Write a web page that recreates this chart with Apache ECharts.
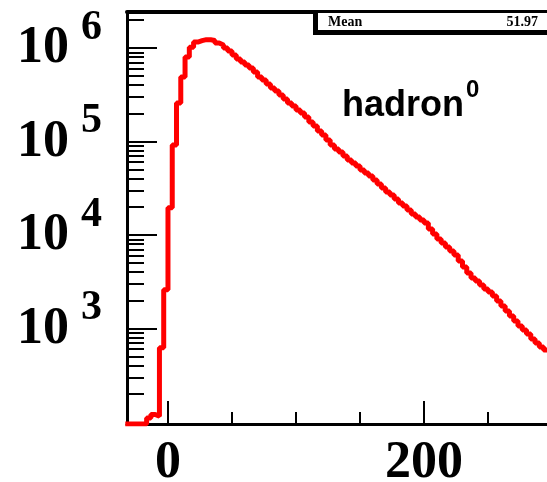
<!DOCTYPE html>
<html><head><meta charset="utf-8">
<script src="https://cdn.jsdelivr.net/npm/echarts@6/dist/echarts.min.js"></script>
<style>html,body{margin:0;padding:0;background:#fff;}#c{width:547px;height:482px;}</style>
</head><body><div id="c"></div>
<script>
// Histogram binning
const binStart = -100 / 3;
const binWidth = 10 / 3;
// Bin contents, bin i covers [binStart + i*binWidth, binStart + (i+1)*binWidth]
const counts = [
  0, 0, 0, 0, 0, 110, 120, 115, 620, 2600,
  19500, 92000, 258000, 490000, 800000, 1020000, 1160000, 1200000, 1230000, 1225000,
  1205000, 1130000, 1077000, 1000000, 929000, 841000, 762000, 709000, 658000, 611000,
  554000, 490000, 455000, 412000, 373000, 347000, 314000, 285000, 258000, 240000,
  217000, 202000, 183000, 161700, 146500, 129500, 117400, 103700, 91800, 83100,
  77200, 70000, 63400, 58900, 54700, 49600, 46000, 42800, 38800, 35100,
  31800, 28800, 26800, 24300, 22000, 20400, 18500, 16800, 15580, 14470,
  13440, 11600, 10250, 9060, 8210, 7440, 6740, 6110, 5270, 4550,
  3920, 3470, 3220, 2920, 2650, 2460, 2230, 1970, 1740, 1540,
  1360, 1200, 1060, 964, 873, 772, 700, 634, 589
];
// Axis ranges and ticks
const xRange = [-32, 296];
const yRange = [95, 2430000];
const xLabelTicks = [0, 200];
const xMinorTicks = [50, 100, 150, 250];
const yLabelTicks = [1e3, 1e4, 1e5, 1e6];
const yDecades = [1e2, 1e3, 1e4, 1e5, 1e6];
const yMultipliers = [2, 3, 4, 5, 6, 7, 8, 9];
const statLabel = 'Mean';
const statValue = '51.97';

const yMinor = [];
yDecades.forEach(d => yMultipliers.forEach(m => { const v = d * m; if (v > yRange[0] && v < yRange[1]) yMinor.push(v); }));

const pts = [];
counts.forEach((c, i) => pts.push([binStart + i * binWidth, c > 0 ? c : yRange[0]]));
pts.push([binStart + counts.length * binWidth, counts[counts.length - 1] || yRange[0]]);

const chart = echarts.init(document.getElementById('c'), null, {renderer: 'canvas'});
const serif = 'Liberation Serif';
chart.setOption({
  animation: false,
  backgroundColor: '#fff',
  grid: {left: 127, top: 12, right: 0, bottom: 58, containLabel: false, outerBoundsMode: 'none'},
  title: {
    text: '{a|hadron}{s|0}', left: 337, top: 73,
    textStyle: {rich: {
      a: {fontFamily: 'Liberation Sans', fontWeight: 'bold', fontSize: 36, color: '#000', verticalAlign: 'bottom'},
      s: {fontFamily: 'Liberation Sans', fontWeight: 'bold', fontSize: 24, color: '#000', verticalAlign: 'bottom', padding: [0, 0, 22, 2]}
    }}
  },
  xAxis: [
    {type: 'value', position: 'bottom', min: xRange[0], max: xRange[1],
     axisLine: {show: true, onZero: false, lineStyle: {color: '#000', width: 3}},
     axisTick: {show: true, inside: true, length: 23, lineStyle: {color: '#000', width: 2}, customValues: xLabelTicks},
     axisLabel: {show: true, customValues: xLabelTicks, margin: 14, fontFamily: serif, fontWeight: 'bold', fontSize: 52, color: '#000'},
     splitLine: {show: false}},
    {type: 'value', position: 'bottom', min: xRange[0], max: xRange[1],
     axisLine: {show: false, onZero: false},
     axisTick: {show: true, inside: true, length: 12, lineStyle: {color: '#000', width: 2}, customValues: xMinorTicks},
     axisLabel: {show: false}, splitLine: {show: false}},
    {type: 'value', position: 'top', min: xRange[0], max: xRange[1],
     axisLine: {show: true, onZero: false, lineStyle: {color: '#000', width: 4}},
     axisTick: {show: false}, axisLabel: {show: false}, splitLine: {show: false}}
  ],
  yAxis: [
    {type: 'log', logBase: 10, position: 'left', min: yRange[0], max: yRange[1],
     axisLine: {show: true, onZero: false, lineStyle: {color: '#000', width: 3}},
     axisTick: {show: true, inside: true, length: 30, lineStyle: {color: '#000', width: 2}, customValues: yLabelTicks},
     axisLabel: {show: true, customValues: yLabelTicks, margin: 25,
       formatter: v => '{b|10}{s|' + Math.round(Math.log10(v)) + '}',
       rich: {
         b: {fontFamily: serif, fontWeight: 'bold', fontSize: 52, color: '#000', verticalAlign: 'bottom', padding: [0, 0, 14, 0]},
         s: {fontFamily: serif, fontWeight: 'bold', fontSize: 42, color: '#000', verticalAlign: 'bottom', padding: [0, 0, 40, 12]}
       }},
     splitLine: {show: false}},
    {type: 'log', logBase: 10, position: 'left', min: yRange[0], max: yRange[1],
     axisLine: {show: false, onZero: false},
     axisTick: {show: true, inside: true, length: 17, lineStyle: {color: '#000', width: 2}, customValues: yMinor},
     axisLabel: {show: false}, splitLine: {show: false}}
  ],
  series: [{
    type: 'line', xAxisIndex: 0, yAxisIndex: 0, step: 'end', data: pts,
    showSymbol: false, symbol: 'none', clip: true,
    lineStyle: {color: '#ff0000', width: 5}
  }],
  graphic: [
    {type: 'rect', shape: {x: 313, y: 10, width: 260, height: 25}, style: {fill: '#000'}, z: 100},
    {type: 'rect', shape: {x: 318, y: 13, width: 260, height: 17}, style: {fill: '#fff'}, z: 101},
    {type: 'text', x: 328, y: 15, style: {text: statLabel, font: 'bold 14px "Liberation Serif"', fill: '#000'}, z: 102},
    {type: 'text', x: 538, y: 15, style: {text: statValue, font: 'bold 14px "Liberation Serif"', fill: '#000', textAlign: 'right'}, z: 102}
  ]
});
</script></body></html>
